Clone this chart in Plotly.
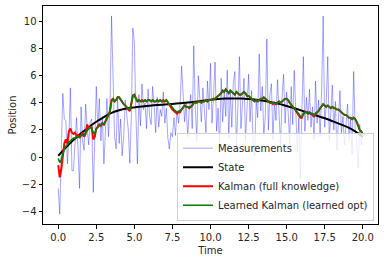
import plotly.graph_objects as go

# ---- data ----
meas_t = [round(i * 0.1, 1) for i in range(201)]
measurements = [
    -2.3, -4.2, 0.5, 4.7, 2.8, 2.7, -0.5, 1.5, 5.1, -1.0,
    -1.0, 1.5, 2.9, 0.6, -2.3, 3.7, 1.2, 0.5, 3.9, 2.2,
    0.9, 2.6, 2.8, -2.6, 1.7, 5.2, 2.1, 4.3, 1.2, 3.0,
    -0.5, 2.4, 4.3, 1.5, 3.9, 10.4, 6.0, 1.5, 0.6, 4.5,
    1.0, 2.8, 0.1, 1.5, 4.2, 2.9, 2.0, -0.45, 3.0, 9.5,
    8.5, 3.2, -0.5, 4.6, 2.3, 5.4, 3.5, 4.0, 2.1, 5.0,
    3.0, 2.4, 5.2, 3.8, 1.8, 4.4, 2.2, 3.5, 3.0, 4.8,
    2.5, 3.6, 1.4, 0.6, 1.8, 1.5, 2.9, 1.6, 3.4, 2.5,
    3.8, 6.7, 4.5, 2.6, 4.0, 1.5, 3.4, 4.6, 2.1, 8.2,
    3.7, 1.2, 6.0, 4.3, 2.6, 5.1, 3.3, 1.8, 5.6, 3.5,
    6.9, 2.5, 4.6, 7.0, 1.9, 3.6, 0.7, 5.8, 2.6, 4.8,
    3.0, 6.4, 1.4, 4.9, 2.2, 5.5, 6.3, 0.6, 3.8, 7.4,
    2.1, 4.5, 5.8, 1.2, 3.9, 6.1, 2.6, 4.9, 0.9, 0.1,
    4.2, 2.9, 7.6, 3.4, 5.2, 1.6, 3.0, 8.7, 2.0, 4.6,
    5.4, 1.3, 4.0, 2.7, 5.7, 3.2, 0.8, 4.4, 6.1, 2.5,
    4.8, 3.3, 1.0, 5.2, 2.4, 6.4, 3.8, 0.4, 2.9, -1.6,
    3.3, 7.4, 1.9, 4.4, 2.7, 5.0, 2.2, 3.7, 1.3, 5.6,
    2.5, 4.2, 1.5, 5.0, 10.4, 2.2, 4.0, 7.4, 1.2, 3.6,
    5.3, 2.0, 4.1, 0.5, 3.3, 4.9, 1.8, 3.0, 0.9, 2.6,
    3.9, 1.2, 2.8, 0.2, 6.3, 2.1, 1.0, -0.8, 2.4, 0.9,
    1.5,
]

state_t = [i * 0.5 for i in range(41)]
state = [
    0.1, 0.7, 1.25, 1.75, 2.2, 2.6, 2.95, 3.25, 3.45, 3.58,
    3.66, 3.72, 3.78, 3.83, 3.87, 3.91, 3.96, 4.02, 4.08, 4.15,
    4.22, 4.28, 4.31, 4.32, 4.31, 4.28, 4.23, 4.15, 4.04, 3.92,
    3.76, 3.6, 3.42, 3.23, 3.05, 2.86, 2.65, 2.43, 2.2, 1.9,
    1.5,
]

kalman = [
    -0.6, -1.5, -0.9, 0.3, 1.0, 1.3, 1.0, 1.9, 2.1, 1.8,
    1.7, 1.8, 1.6, 1.6, 1.4, 1.6, 1.8, 1.5, 1.7, 2.4,
    2.1, 2.2, 2.2, 1.3, 1.5, 2.1, 2.3, 2.4, 2.3, 2.5,
    2.4, 2.6, 2.9, 3.1, 3.4, 4.2, 4.3, 4.1, 4.2, 4.4,
    4.4, 4.2, 4.0, 3.9, 3.8, 3.6, 3.5, 3.4, 3.9, 4.5,
    4.6, 4.4, 4.1, 4.2, 4.1, 4.2, 4.1, 4.2, 4.1, 4.2,
    4.2, 4.1, 4.2, 4.1, 4.1, 4.2, 4.1, 4.2, 4.1, 4.2,
    4.1, 4.2, 4.0, 3.9, 3.7, 3.5, 3.4, 3.3, 3.2, 3.3,
    3.3, 3.5, 3.7, 3.8, 3.7, 3.7, 3.6, 3.7, 3.8, 4.0,
    4.0, 4.0, 4.1, 4.1, 4.0, 4.1, 4.1, 4.2, 4.1, 4.2,
    4.2, 4.2, 4.3, 4.3, 4.4, 4.5, 4.6, 4.7, 4.9, 4.8,
    5.0, 4.8, 4.7, 4.9, 4.8, 4.7, 4.6, 4.8, 4.7, 4.6,
    4.6, 4.7, 4.8, 4.7, 4.5, 4.5, 4.4, 4.3, 4.2, 4.1,
    4.2, 4.1, 4.2, 4.3, 4.3, 4.4, 4.3, 4.2, 4.1, 4.0,
    4.0, 3.9, 4.0, 3.9, 4.0, 4.1, 4.0, 4.1, 4.2, 4.3,
    4.3, 4.2, 4.0, 3.8, 3.7, 3.6, 3.4, 3.3, 3.1, 2.9,
    2.9, 3.2, 3.3, 3.3, 3.2, 3.3, 3.2, 3.1, 3.0, 3.2,
    3.3, 3.4, 3.6, 3.8, 3.9, 3.8, 3.7, 3.8, 3.7, 3.6,
    3.7, 3.6, 3.6, 3.5, 3.5, 3.4, 3.3, 3.2, 3.1, 3.1,
    3.0, 2.9, 2.9, 2.8, 2.9, 2.8, 2.6, 2.3, 2.0, 1.9,
    1.7,
]

learned = [
    -0.1, -0.4, -0.2, 0.3, 0.6, 0.8, 0.9, 1.1, 1.2, 1.3,
    1.4, 1.4, 1.5, 1.5, 1.5, 1.6, 1.6, 1.6, 1.8, 2.0,
    2.1, 2.2, 2.1, 1.8, 1.7, 2.1, 2.2, 2.3, 2.4, 2.5,
    2.4, 2.6, 2.9, 3.1, 3.4, 4.1, 4.3, 4.1, 4.2, 4.4,
    4.4, 4.2, 4.0, 3.9, 3.8, 3.7, 3.6, 3.5, 3.9, 4.6,
    4.5, 4.3, 4.1, 4.2, 4.1, 4.1, 4.1, 4.2, 4.1, 4.2,
    4.2, 4.1, 4.2, 4.1, 4.1, 4.2, 4.1, 4.2, 4.1, 4.1,
    4.1, 4.2, 4.0, 3.9, 3.8, 3.6, 3.5, 3.4, 3.3, 3.4,
    3.4, 3.5, 3.7, 3.8, 3.7, 3.7, 3.7, 3.7, 3.8, 4.0,
    4.0, 4.0, 4.1, 4.1, 4.0, 4.1, 4.1, 4.2, 4.1, 4.2,
    4.2, 4.2, 4.3, 4.3, 4.4, 4.5, 4.6, 4.7, 4.9, 4.8,
    5.0, 4.8, 4.7, 4.9, 4.8, 4.7, 4.6, 4.8, 4.7, 4.6,
    4.6, 4.7, 4.8, 4.7, 4.5, 4.5, 4.4, 4.3, 4.2, 4.1,
    4.2, 4.1, 4.2, 4.3, 4.3, 4.4, 4.3, 4.2, 4.1, 4.0,
    4.0, 4.0, 4.0, 3.9, 4.0, 4.1, 4.0, 4.1, 4.2, 4.3,
    4.3, 4.2, 4.0, 3.8, 3.7, 3.6, 3.4, 3.3, 3.2, 3.0,
    3.0, 3.2, 3.3, 3.3, 3.2, 3.3, 3.2, 3.2, 3.1, 3.2,
    3.3, 3.4, 3.6, 3.8, 3.9, 3.8, 3.7, 3.8, 3.7, 3.6,
    3.7, 3.6, 3.6, 3.5, 3.5, 3.4, 3.3, 3.2, 3.1, 3.1,
    3.0, 2.9, 2.9, 2.8, 2.9, 2.8, 2.6, 2.3, 2.0, 1.9,
    1.7,
]

x_ticks = [0, 2.5, 5, 7.5, 10, 12.5, 15, 17.5, 20]
x_tick_labels = ["0.0", "2.5", "5.0", "7.5", "10.0", "12.5", "15.0", "17.5", "20.0"]
y_ticks = [-4, -2, 0, 2, 4, 6, 8, 10]

FONT = "DejaVu Sans"
TXT = "#262626"

fig = go.Figure()
fig.add_trace(go.Scatter(x=meas_t, y=measurements, mode="lines", name="Measurements",
                         line=dict(color="rgba(0,0,255,0.5)", width=0.7)))
fig.add_trace(go.Scatter(x=state_t, y=state, mode="lines", name="State",
                         line=dict(color="black", width=2, shape="spline")))
fig.add_trace(go.Scatter(x=meas_t, y=kalman, mode="lines", name="Kalman (full knowledge)",
                         line=dict(color="#ff0000", width=2)))
fig.add_trace(go.Scatter(x=meas_t, y=learned, mode="lines", name="Learned Kalman (learned opt)",
                         line=dict(color="#008000", width=1.6)))

axis_common = dict(showgrid=False, zeroline=False, showline=True, linecolor="black",
                   linewidth=1, mirror=True, ticks="outside", ticklen=3.5, tickwidth=0.8,
                   tickcolor="black", automargin=False,
                   tickfont=dict(family=FONT, size=10, color=TXT))
fig.update_xaxes(range=[-1, 21], tickvals=x_ticks, ticktext=x_tick_labels,
                 title=dict(text="Time", font=dict(family=FONT, size=10, color=TXT), standoff=5),
                 **axis_common)
fig.update_yaxes(range=[-4.93, 11.13], tickvals=y_ticks,
                 title=dict(text="Position", font=dict(family=FONT, size=10, color=TXT), standoff=3),
                 **axis_common)

fig.update_layout(
    width=384, height=262,
    margin=dict(l=43, r=6, t=6, b=38),
    plot_bgcolor="white", paper_bgcolor="white",
    font=dict(family=FONT, size=10, color=TXT),
    legend=dict(x=0.988, y=0.015, xanchor="right", yanchor="bottom",
                bgcolor="rgba(255,255,255,0.8)", bordercolor="#d0d0d0", borderwidth=1,
                font=dict(family=FONT, size=10, color=TXT), itemwidth=30,
                tracegroupgap=0),
)

fig.write_html("out.html", config={"displayModeBar": False},
               post_script="document.body.style.margin='0';document.body.style.padding='0';")
